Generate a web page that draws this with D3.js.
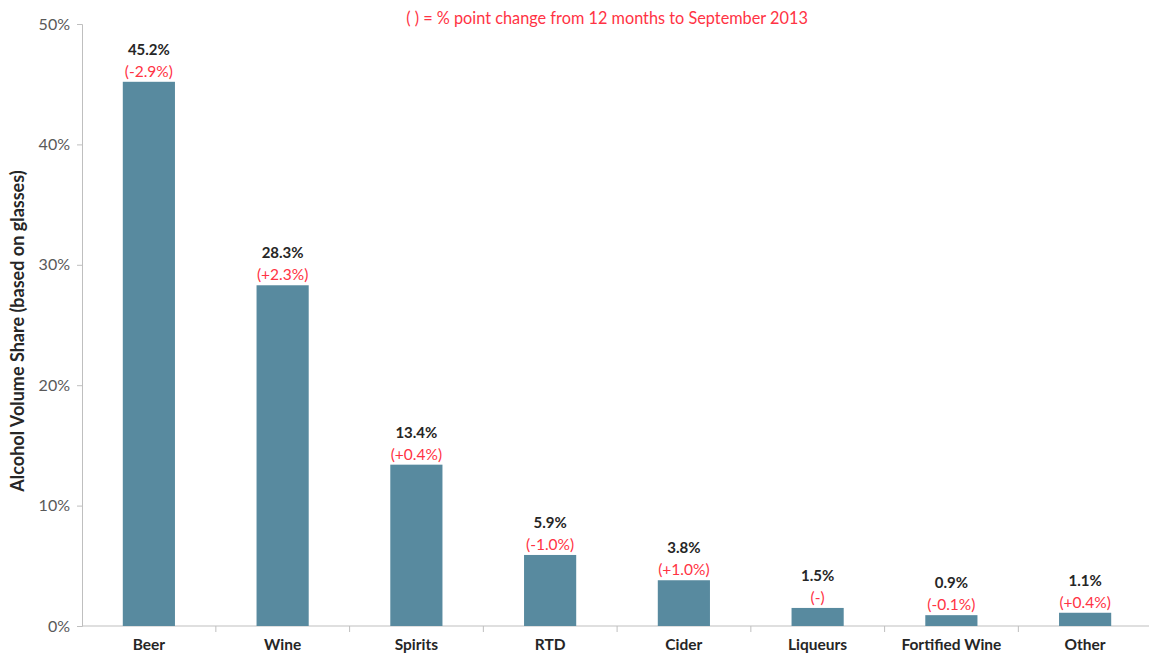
<!DOCTYPE html>
<html>
<head>
<meta charset="utf-8">
<script src="https://cdn.jsdelivr.net/npm/d3@7"></script>
<style>
  body { margin: 0; background: #fff; }
  svg { display: block; font-family: Lato, "Open Sans", sans-serif; }
</style>
</head>
<body>
<svg width="1149" height="655"></svg>
<script>
// chart data
var categories = ["Beer", "Wine", "Spirits", "RTD", "Cider", "Liqueurs", "Fortified Wine", "Other"];
var shares = [45.2, 28.3, 13.4, 5.9, 3.8, 1.5, 0.9, 1.1];
var changes = ["(-2.9%)", "(+2.3%)", "(+0.4%)", "(-1.0%)", "(+1.0%)", "(-)", "(-0.1%)", "(+0.4%)"];
var yTicks = [0, 10, 20, 30, 40, 50];

var svg = d3.select("svg");
var margin = {left: 82, right: -3, top: 24, bottom: 29};
var width = 1149, height = 655;

var x = d3.scaleBand()
  .domain(categories)
  .range([margin.left, width - margin.right])
  .paddingInner(0.61)
  .paddingOuter(0.305);

var y = d3.scaleLinear()
  .domain([0, 50])
  .range([height - margin.bottom, margin.top]);

// y axis
var yAxis = svg.append("g")
  .attr("transform", "translate(" + margin.left + ",0)")
  .call(d3.axisLeft(y).tickValues(yTicks).tickSize(5).tickPadding(7).tickFormat(function(d) { return d + "%"; }));
yAxis.select(".domain").attr("stroke", "#bfbfbf");
yAxis.selectAll(".tick line").attr("stroke", "#bfbfbf");
yAxis.selectAll("text").attr("fill", "#595959").style("font-size", "16px").style("font-family", "Lato, sans-serif");

// x axis (ticks at band boundaries)
var xg = svg.append("g");
xg.append("line")
  .attr("x1", margin.left).attr("x2", width)
  .attr("y1", y(0)).attr("y2", y(0))
  .attr("stroke", "#bfbfbf");
xg.selectAll(".xtick")
  .data(categories.slice(1))
  .enter().append("line")
  .attr("x1", function(d) { return x(d) - x.bandwidth() * 0.78; })
  .attr("x2", function(d) { return x(d) - x.bandwidth() * 0.78; })
  .attr("y1", y(0)).attr("y2", y(0) + 6)
  .attr("stroke", "#bfbfbf");

xg.selectAll(".xlabel")
  .data(categories)
  .enter().append("text")
  .attr("x", function(d) { return x(d) + x.bandwidth() / 2; })
  .attr("y", height - 5)
  .attr("text-anchor", "middle")
  .attr("fill", "#262626")
  .style("font-size", "15.5px")
  .style("font-weight", "bold")
  .text(function(d) { return d; });

// bars
svg.selectAll(".bar")
  .data(shares)
  .enter().append("rect")
  .attr("x", function(d, i) { return x(categories[i]); })
  .attr("width", x.bandwidth())
  .attr("y", function(d) { return y(d); })
  .attr("height", function(d) { return y(0) - y(d); })
  .attr("fill", "#588a9f");

// value labels
svg.selectAll(".val")
  .data(shares)
  .enter().append("text")
  .attr("x", function(d, i) { return x(categories[i]) + x.bandwidth() / 2; })
  .attr("y", function(d) { return y(d) - 27; })
  .attr("text-anchor", "middle")
  .attr("fill", "#262626")
  .style("font-size", "15px")
  .style("font-weight", "bold")
  .text(function(d) { return d.toFixed(1) + "%"; });

// change labels
svg.selectAll(".chg")
  .data(changes)
  .enter().append("text")
  .attr("x", function(d, i) { return x(categories[i]) + x.bandwidth() / 2; })
  .attr("y", function(d, i) { return y(shares[i]) - 5; })
  .attr("text-anchor", "middle")
  .attr("fill", "#ff3344")
  .style("font-size", "15.5px")
  .text(function(d) { return d; });

// note at top
svg.append("text")
  .attr("x", 607)
  .attr("y", 24)
  .attr("text-anchor", "middle")
  .attr("fill", "#ff3344")
  .style("font-size", "16.3px")
  .text("( ) = % point change from 12  months to September 2013");

// y title
svg.append("text")
  .attr("transform", "translate(24," + (y(25) + 6) + ") rotate(-90)")
  .attr("text-anchor", "middle")
  .attr("fill", "#262626")
  .style("font-size", "18px")
  .style("font-weight", "bold")
  .text("Alcohol Volume Share (based on glasses)");
</script>
</body>
</html>
